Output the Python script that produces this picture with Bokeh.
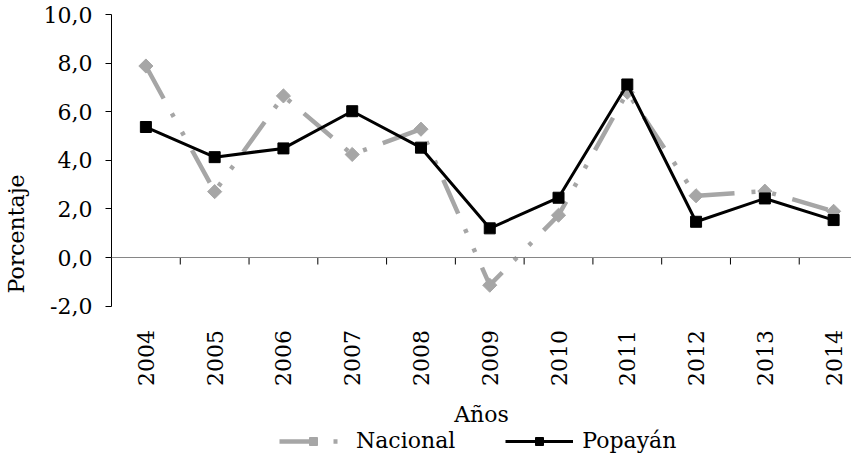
from math import pi
from bokeh.plotting import figure
from bokeh.models import Range1d, FixedTicker, LinearAxis, Legend, LegendItem, Span
from bokeh.embed import file_html
from bokeh.resources import INLINE

# ---- data ----
years = [2004, 2005, 2006, 2007, 2008, 2009, 2010, 2011, 2012, 2013, 2014]
year_labels = ["2004", "2005", "2006", "2007", "2008", "2009", "2010", "2011", "2012", "2013", "2014"]
nacional = [7.88, 2.71, 6.65, 4.24, 5.28, -1.14, 1.74, 6.80, 2.54, 2.73, 1.90]
popayan = [5.37, 4.13, 4.49, 6.02, 4.52, 1.20, 2.46, 7.12, 1.47, 2.43, 1.54]
y_ticks = [-2, 0, 2, 4, 6, 8, 10]
y_tick_labels = ["-2,0", "0,0", "2,0", "4,0", "6,0", "8,0", "10,0"]
series_names = ["Nacional", "Popayán"]

FONT = "DejaVu Serif"
FS = "22px"
GRAY = "#A6A6A6"

W, H = 851, 453
B_LEFT, B_TOP = 110, 14
Y0, Y1 = -2, 10
PX_PER_UNIT = 24.3
frame_h = H - B_TOP
y_bottom = Y1 - frame_h / PX_PER_UNIT   # frame extends below the axis to hold labels/legend

p = figure(width=W, height=H, output_backend="svg", toolbar_location=None,
           x_range=Range1d(2003.5, 2014.26), y_range=Range1d(y_bottom, Y1),
           x_axis_location=None,
           min_border_left=B_LEFT, min_border_right=0, min_border_top=B_TOP,
           min_border_bottom=0)
p.xgrid.visible = False
p.ygrid.visible = False
p.outline_line_color = None
p.background_fill_color = "white"
p.border_fill_color = "white"

# zero line and category boundary ticks
p.add_layout(Span(location=0, dimension="width", line_color="#868686", line_width=1.2))
bounds = [y + 0.5 for y in years[:-1]]
tick_len = 7 / PX_PER_UNIT
p.segment(x0=bounds, y0=[0] * len(bounds), x1=bounds, y1=[-tick_len] * len(bounds),
          line_color="black", line_width=1)

# series
nl = p.line(years, nacional, line_color=GRAY, line_width=4.5,
            line_dash="37 17 4 17 4 17", line_cap="butt")
ns = p.scatter(years, nacional, marker="square", angle=pi / 4, size=10,
               fill_color=GRAY, line_color=GRAY)
pl = p.line(years, popayan, line_color="black", line_width=3)
ps = p.scatter(years, popayan, marker="square", size=11,
               fill_color="black", line_color="black")

# category labels axis fixed at the bottom of the value range
xa = LinearAxis(fixed_location=Y0, ticker=FixedTicker(ticks=years))
xa.major_label_overrides = {y: l for y, l in zip(years, year_labels)}
xa.major_label_orientation = pi / 2
xa.axis_line_color = None
xa.major_tick_line_color = None
xa.minor_tick_line_color = None
xa.major_tick_in = 0
xa.major_tick_out = 0
xa.major_label_standoff = 24
xa.major_label_text_font = FONT
xa.major_label_text_font_size = FS
xa.major_label_text_color = "black"
xa.axis_label = "Años"
xa.axis_label_standoff = 13
xa.axis_label_text_font = FONT
xa.axis_label_text_font_size = FS
xa.axis_label_text_font_style = "normal"
xa.axis_label_text_color = "black"
p.add_layout(xa, "below")

# y axis
ya = p.yaxis[0]
ya.ticker = FixedTicker(ticks=y_ticks)
ya.bounds = (Y0, Y1)
ya.major_label_overrides = {t: l for t, l in zip(y_ticks, y_tick_labels)}
ya.axis_line_color = "black"
ya.major_tick_line_color = "black"
ya.minor_tick_line_color = None
ya.major_tick_in = 0
ya.major_tick_out = 6
ya.major_label_standoff = 13
ya.major_label_text_font = FONT
ya.major_label_text_font_size = FS
ya.major_label_text_color = "black"
ya.axis_label = "Porcentaje"
ya.axis_label_standoff = 12
ya.axis_label_text_font = FONT
ya.axis_label_text_font_size = FS
ya.axis_label_text_font_style = "normal"
ya.axis_label_text_color = "black"

legend = Legend(items=[LegendItem(label=series_names[0], renderers=[nl, ns]),
                       LegendItem(label=series_names[1], renderers=[pl, ps])],
                orientation="horizontal", location=(168, 0),
                glyph_width=68, glyph_height=20, label_standoff=9, spacing=50,
                padding=0, margin=0, border_line_color=None,
                background_fill_alpha=0,
                label_text_font=FONT, label_text_font_size=FS,
                label_text_color="black")
p.add_layout(legend)

open("out.html", "w").write(file_html(p, INLINE))
